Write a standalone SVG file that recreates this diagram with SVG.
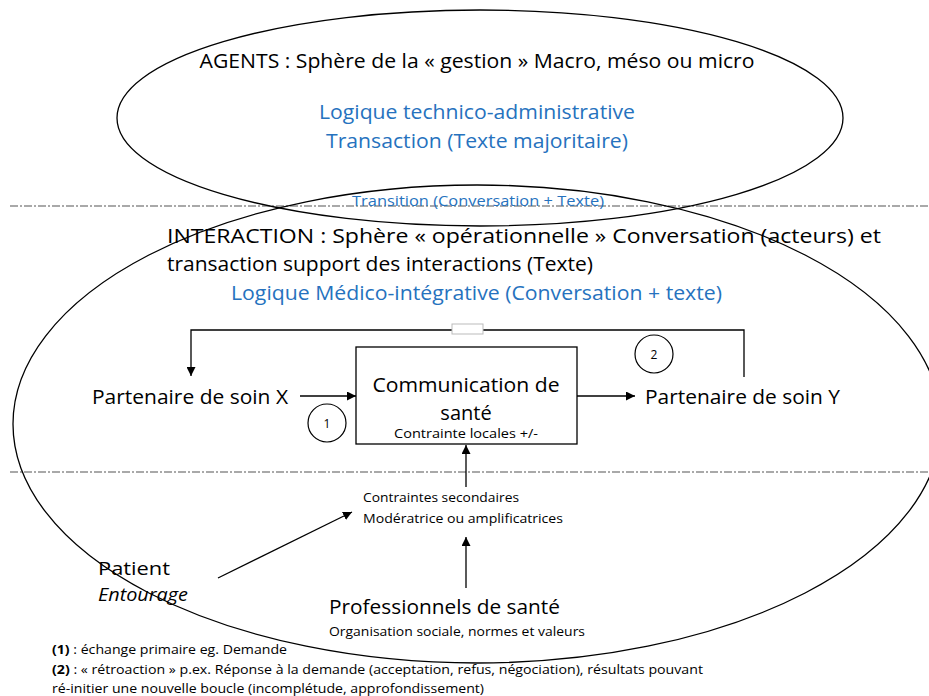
<svg xmlns="http://www.w3.org/2000/svg" width="929" height="696" viewBox="0 0 929 696">
  <defs>
    <marker id="arr" viewBox="0 0 10 10" refX="10" refY="5" markerWidth="9" markerHeight="9" markerUnits="userSpaceOnUse" orient="auto">
      <path d="M0,0 L10,5 L0,10 z" fill="#000"/>
    </marker>
    <style>
      text { font-family: "Open Sans", "Noto Sans", "Liberation Sans", sans-serif; fill: #000; }
      .big { font-size: 20px; }
      .blue { fill: #2672BE; }
      .small { font-size: 12.5px; }
      .dash { stroke: #555; stroke-width: 1.2; stroke-dasharray: 8 2 2 2; fill: none; }
      .sph { fill: none; stroke: #000; stroke-width: 1.3; }
      .conn { fill: none; stroke: #000; stroke-width: 1.3; }
    </style>
  </defs>
  <rect width="929" height="696" fill="#fff"/>

  <g id="separators">
    <line class="dash" x1="10" y1="206" x2="929" y2="206"/>
    <line class="dash" x1="10" y1="472" x2="929" y2="472"/>
  </g>

  <g id="agents">
    <ellipse class="sph" cx="480" cy="118" rx="363" ry="108"/>
    <text class="big" x="477" y="68" text-anchor="middle" textLength="555" lengthAdjust="spacingAndGlyphs">AGENTS : Sphère de la « gestion » Macro, méso ou micro</text>
    <text class="big blue" x="477" y="119" text-anchor="middle" textLength="316" lengthAdjust="spacingAndGlyphs">Logique technico-administrative</text>
    <text class="big blue" x="477" y="148" text-anchor="middle" textLength="302" lengthAdjust="spacingAndGlyphs">Transaction (Texte majoritaire)</text>
  </g>

  <g id="transition">
    <text class="blue" x="478" y="206" text-anchor="middle" font-size="15" textLength="252" lengthAdjust="spacingAndGlyphs">Transition (Conversation + Texte)</text>
  </g>

  <g id="interaction">
    <ellipse class="sph" cx="477" cy="424" rx="464" ry="239"/>
    <text class="big" x="167" y="243" textLength="714" lengthAdjust="spacingAndGlyphs">INTERACTION : Sphère « opérationnelle » Conversation (acteurs) et</text>
    <text class="big" x="167" y="271" textLength="426" lengthAdjust="spacingAndGlyphs">transaction support des interactions (Texte)</text>
    <text class="big blue" x="231" y="300" textLength="491" lengthAdjust="spacingAndGlyphs">Logique Médico-intégrative (Conversation + texte)</text>
  </g>

  <g id="connectors">
    <polyline class="conn" points="744,377 744,330 191,330 191,376" marker-end="url(#arr)"/>
    <rect x="452" y="324" width="31" height="10" fill="#fff" stroke="#bbb" stroke-width="1"/>
    <line class="conn" x1="300" y1="396" x2="356" y2="396" marker-end="url(#arr)"/>
    <line class="conn" x1="577" y1="396" x2="635" y2="396" marker-end="url(#arr)"/>
    <line class="conn" x1="466" y1="487" x2="466" y2="445" marker-end="url(#arr)"/>
    <line class="conn" x1="466" y1="588" x2="466" y2="537" marker-end="url(#arr)"/>
    <line class="conn" x1="218" y1="578" x2="352" y2="512" marker-end="url(#arr)"/>
  </g>

  <g id="communication">
    <rect x="356" y="347" width="221" height="97" fill="#fff" stroke="#000" stroke-width="1.3"/>
    <text x="466" y="392" text-anchor="middle" font-size="20" textLength="187" lengthAdjust="spacingAndGlyphs">Communication de</text>
    <text x="466" y="420" text-anchor="middle" font-size="20">santé</text>
    <text class="small" x="466" y="438" text-anchor="middle" textLength="144" lengthAdjust="spacingAndGlyphs">Contrainte locales +/-</text>
  </g>

  <g id="partenaire-x">
    <text class="big" x="92" y="404" textLength="196" lengthAdjust="spacingAndGlyphs">Partenaire de soin X</text>
  </g>

  <g id="partenaire-y">
    <text class="big" x="645" y="404" textLength="195" lengthAdjust="spacingAndGlyphs">Partenaire de soin Y</text>
  </g>

  <g id="marker-1">
    <circle cx="327" cy="423" r="19" fill="#fff" stroke="#000" stroke-width="1.2"/>
    <text x="327" y="428" text-anchor="middle" font-size="12">1</text>
  </g>

  <g id="marker-2">
    <circle cx="654" cy="354" r="19" fill="#fff" stroke="#000" stroke-width="1.2"/>
    <text x="654" y="359" text-anchor="middle" font-size="12">2</text>
  </g>

  <g id="contraintes">
    <text class="small" x="363" y="502" textLength="156" lengthAdjust="spacingAndGlyphs">Contraintes secondaires</text>
    <text class="small" x="363" y="523" textLength="200" lengthAdjust="spacingAndGlyphs">Modératrice ou amplificatrices</text>
  </g>

  <g id="patient">
    <text x="98" y="575" font-size="19" textLength="72" lengthAdjust="spacingAndGlyphs">Patient</text>
    <text x="98" y="601" font-size="18" font-style="italic" textLength="90" lengthAdjust="spacingAndGlyphs">Entourage</text>
  </g>

  <g id="professionnels">
    <text class="big" x="329" y="614" textLength="231" lengthAdjust="spacingAndGlyphs">Professionnels de santé</text>
    <text class="small" x="329" y="636" textLength="256" lengthAdjust="spacingAndGlyphs">Organisation sociale, normes et valeurs</text>
  </g>

  <g id="legend">
    <text class="small" x="52" y="654" textLength="235" lengthAdjust="spacingAndGlyphs"><tspan font-weight="bold">(1)</tspan> : échange primaire eg. Demande</text>
    <text class="small" x="52" y="674" textLength="651" lengthAdjust="spacingAndGlyphs"><tspan font-weight="bold">(2)</tspan> : « rétroaction » p.ex. Réponse à la demande (acceptation, refus, négociation), résultats pouvant</text>
    <text class="small" x="52" y="693" textLength="432" lengthAdjust="spacingAndGlyphs">ré-initier une nouvelle boucle (incomplétude, approfondissement)</text>
  </g>
</svg>
